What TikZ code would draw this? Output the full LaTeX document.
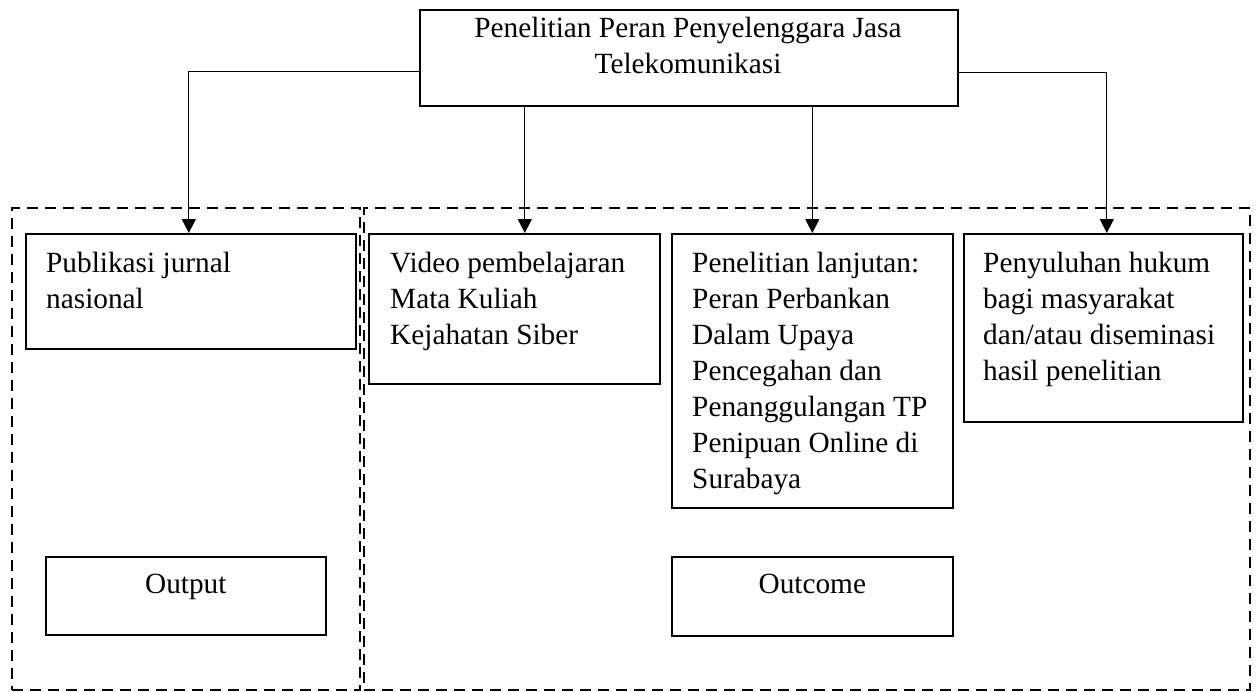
\documentclass[tikz,border=0pt]{standalone}
\usepackage{fontspec}
\setmainfont{Liberation Serif}
\usetikzlibrary{arrows.meta}
\begin{document}
\begin{tikzpicture}[x=1pt,y=-1pt,
  box/.style={draw, line width=1.6pt, inner sep=0pt, anchor=north west},
  zone/.style={draw, line width=1.8pt, dash pattern=on 11pt off 7pt, inner sep=0pt, anchor=north west},
  txt/.style={inner sep=0pt, anchor=north west, align=left, font=\fontsize{29.3}{36}\selectfont},
  conn/.style={line width=1.3pt, -{Triangle[length=14pt,width=14pt]}}]
\useasboundingbox (0,0) rectangle (1257,691);
% zones
\node[zone, minimum width=348pt, minimum height=482pt] (zoneL) at (11,207) {};
\node[zone, minimum width=886pt, minimum height=482pt] (zoneR) at (363,207) {};
% top box
\node[box, minimum width=538pt, minimum height=96pt] (top) at (419,9) {};
\node[txt, anchor=north, align=center] (topT) at (688,11.8) {\strut Penelitian Peran Penyelenggara Jasa\\Telekomunikasi};
% boxes
\node[box, minimum width=330pt, minimum height=115pt] (pub) at (25,233) {};
\node[box, minimum width=291pt, minimum height=150pt] (vid) at (368,233) {};
\node[box, minimum width=281pt, minimum height=274pt] (lan) at (671,233) {};
\node[box, minimum width=279pt, minimum height=188pt] (pen) at (963,233) {};
\node[box, minimum width=280pt, minimum height=78pt] (out) at (45,556) {};
\node[box, minimum width=281pt, minimum height=79pt] (outc) at (671,556) {};
% texts
\node[txt] (pubT) at (46,246.8) {\strut Publikasi jurnal\\nasional};
\node[txt] (vidT) at (390,246.8) {\strut Video pembelajaran\\Mata Kuliah\\Kejahatan Siber};
\node[txt] (lanT) at (692,246.8) {\strut Penelitian lanjutan:\\Peran Perbankan\\Dalam Upaya\\Pencegahan dan\\Penanggulangan TP\\Penipuan Online di\\Surabaya};
\node[txt] (penT) at (983,246.8) {\strut Penyuluhan hukum\\bagi masyarakat\\dan/atau diseminasi\\hasil penelitian};
\node[txt, anchor=north] (outT) at (out.north |- 0,567.8) {\strut Output};
\node[txt, anchor=north] (outcT) at (outc.north |- 0,567.8) {\strut Outcome};
% connectors
\draw[conn] ([yshift=-14pt]top.west) -| ([xshift=-2pt]pub.north);
\draw[conn] ([xshift=-164pt]top.south) -- ([xshift=-164pt]top.south |- vid.north);
\draw[conn] (top.south -| lan.north) -- (lan.north);
\draw[conn] ([yshift=-15pt]top.east) -| ([xshift=3.5pt]pen.north);
\end{tikzpicture}
\end{document}
